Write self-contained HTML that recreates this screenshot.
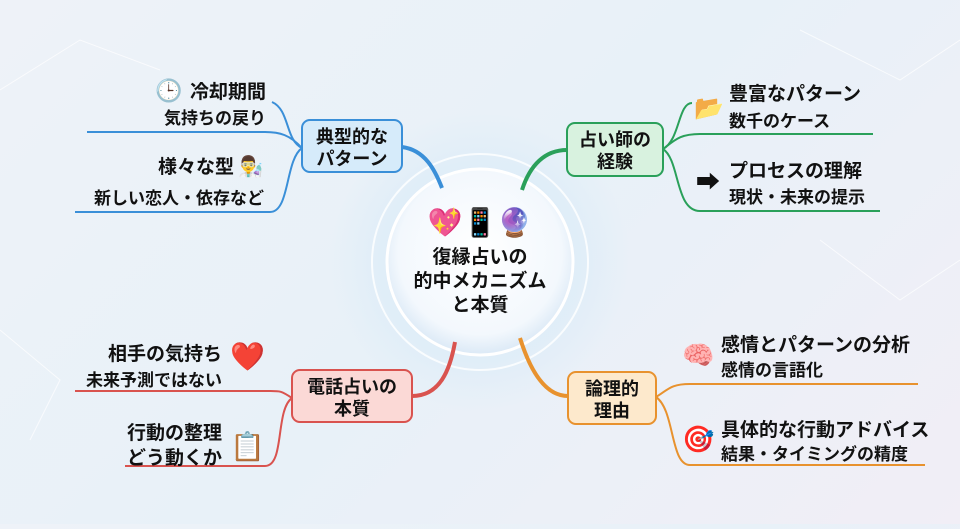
<!DOCTYPE html>
<html><head><meta charset="utf-8"><style>
html,body{margin:0;padding:0}
body{width:960px;height:524px;overflow:hidden;background:linear-gradient(135deg,#eef2f8 0%,#e8f1f8 50%,#f1eef6 100%);font-family:"Liberation Sans","Noto Sans CJK JP",sans-serif}
svg text{font-family:"Liberation Sans","Noto Sans CJK JP",sans-serif;font-weight:bold;fill:#111}
</style></head><body>
<svg width="960" height="524" viewBox="0 0 960 524" xmlns="http://www.w3.org/2000/svg">
<defs>
<radialGradient id="glow" cx="50%" cy="50%" r="50%">
<stop offset="0%" stop-color="#ffffff" stop-opacity="1"/>
<stop offset="60%" stop-color="#dcecf8" stop-opacity="0.8"/>
<stop offset="100%" stop-color="#dcecf8" stop-opacity="0"/>
</radialGradient>
<radialGradient id="core" cx="50%" cy="45%" r="55%">
<stop offset="0%" stop-color="#ffffff"/>
<stop offset="80%" stop-color="#f3f8fd"/>
<stop offset="100%" stop-color="#dbe9f6"/>
</radialGradient>
</defs>
<g stroke="#ffffff" stroke-opacity="0.7" stroke-width="1" fill="none">
<path d="M0 90 L80 40 L160 70"/><path d="M800 30 L900 80 L960 40"/><path d="M820 240 L900 300 L960 260"/><path d="M0 330 L60 380 L30 440"/>
</g>
<circle cx="480" cy="262" r="150" fill="url(#glow)"/>
<circle cx="480" cy="262" r="108" fill="none" stroke="#ffffff" stroke-width="2" stroke-opacity="0.8"/>
<circle cx="480" cy="262" r="93" fill="url(#core)" stroke="#ffffff" stroke-width="3"/>
<path d="M402 147 C425 150 435 170 442 188" stroke="#3a8fd8" stroke-width="4" fill="none"/>
<path d="M567 150 C545 150 530 165 522 190" stroke="#2aa05a" stroke-width="4" fill="none"/>
<path d="M568 396 C545 396 530 370 520 338" stroke="#e8922e" stroke-width="4" fill="none"/>
<path d="M412 396 C440 396 450 370 455 342" stroke="#d9534f" stroke-width="4" fill="none"/>
<g stroke="#3a8fd8" stroke-width="2" fill="none">
<path d="M302 148 C285 140 290 110 272 102"/>
<path d="M302 148 C290 135 280 132 265 132 L87 132"/>
<path d="M302 148 C285 160 290 212 270 212 L75 212"/>
</g>
<rect x="302" y="120" width="100" height="52" rx="8" fill="#d6ebfa" stroke="#3a8fd8" stroke-width="2"/>
<text x="352" y="143" font-size="18" text-anchor="middle">典型的な</text>
<text x="352" y="165" font-size="18" text-anchor="middle">パターン</text>
<text x="155" y="98" font-size="22">🕒</text>
<text x="266" y="98" font-size="19" text-anchor="end">冷却期間</text>
<text x="266" y="124" font-size="17" text-anchor="end">気持ちの戻り</text>
<text x="234" y="173" font-size="19" text-anchor="end">様々な型</text>
<text x="238" y="173" font-size="20">👨‍🔬</text>
<text x="264" y="204" font-size="17" text-anchor="end">新しい恋人・依存など</text>
<g stroke="#2aa05a" stroke-width="2" fill="none">
<path d="M663 149 C680 140 678 103 692 103"/>
<path d="M663 149 C675 140 680 134 700 134 L873 134"/>
<path d="M663 149 C680 160 675 211 700 211 L880 211"/>
</g>
<rect x="567" y="123" width="96" height="53" rx="8" fill="#d8f2df" stroke="#2aa05a" stroke-width="2"/>
<text x="615" y="146" font-size="18" text-anchor="middle">占い師の</text>
<text x="615" y="168" font-size="18" text-anchor="middle">経験</text>
<text x="694" y="116" font-size="24">📂</text>
<text x="729" y="100" font-size="19">豊富なパターン</text>
<text x="729" y="127" font-size="17">数千のケース</text>
<text x="696" y="190" font-size="24" fill="#8a9099">➡</text>
<text x="729" y="177" font-size="19">プロセスの理解</text>
<text x="729" y="203" font-size="17">現状・未来の提示</text>
<g stroke="#e8922e" stroke-width="2" fill="none">
<path d="M656 397 C668 390 670 384 690 384 L918 384"/>
<path d="M656 397 C675 410 670 465 690 465 L925 465"/>
</g>
<rect x="568" y="372" width="88" height="52" rx="8" fill="#fde9cc" stroke="#e8922e" stroke-width="2"/>
<text x="612" y="395" font-size="18" text-anchor="middle">論理的</text>
<text x="612" y="417" font-size="18" text-anchor="middle">理由</text>
<text x="682" y="364" font-size="26">🧠</text>
<text x="721" y="351" font-size="19">感情とパターンの分析</text>
<text x="721" y="376" font-size="17">感情の言語化</text>
<text x="682" y="448" font-size="26">🎯</text>
<text x="721" y="436" font-size="19">具体的な行動アドバイス</text>
<text x="721" y="460" font-size="17">結果・タイミングの精度</text>
<g stroke="#d9534f" stroke-width="2" fill="none">
<path d="M292 398 C280 390 280 391 265 391 L75 391"/>
<path d="M292 398 C275 410 285 466 265 466 L125 466"/>
</g>
<rect x="292" y="370" width="120" height="52" rx="8" fill="#fbd9d6" stroke="#d9534f" stroke-width="2"/>
<text x="352" y="393" font-size="18" text-anchor="middle">電話占いの</text>
<text x="352" y="415" font-size="18" text-anchor="middle">本質</text>
<text x="222" y="360" font-size="19" text-anchor="end">相手の気持ち</text>
<text x="222" y="386" font-size="17" text-anchor="end">未来予測ではない</text>
<text x="230" y="366" font-size="28">❤️</text>
<text x="222" y="439" font-size="19" text-anchor="end">行動の整理</text>
<text x="222" y="464" font-size="19" text-anchor="end">どう動くか</text>
<text x="230" y="456" font-size="28">📋</text>
<text x="480" y="232" font-size="28" text-anchor="middle">💖📱🔮</text>
<text x="480" y="263" font-size="19" text-anchor="middle">復縁占いの</text>
<text x="480" y="287" font-size="19" text-anchor="middle">的中メカニズム</text>
<text x="480" y="311" font-size="19" text-anchor="middle">と本質</text>
</svg>
</body></html>
